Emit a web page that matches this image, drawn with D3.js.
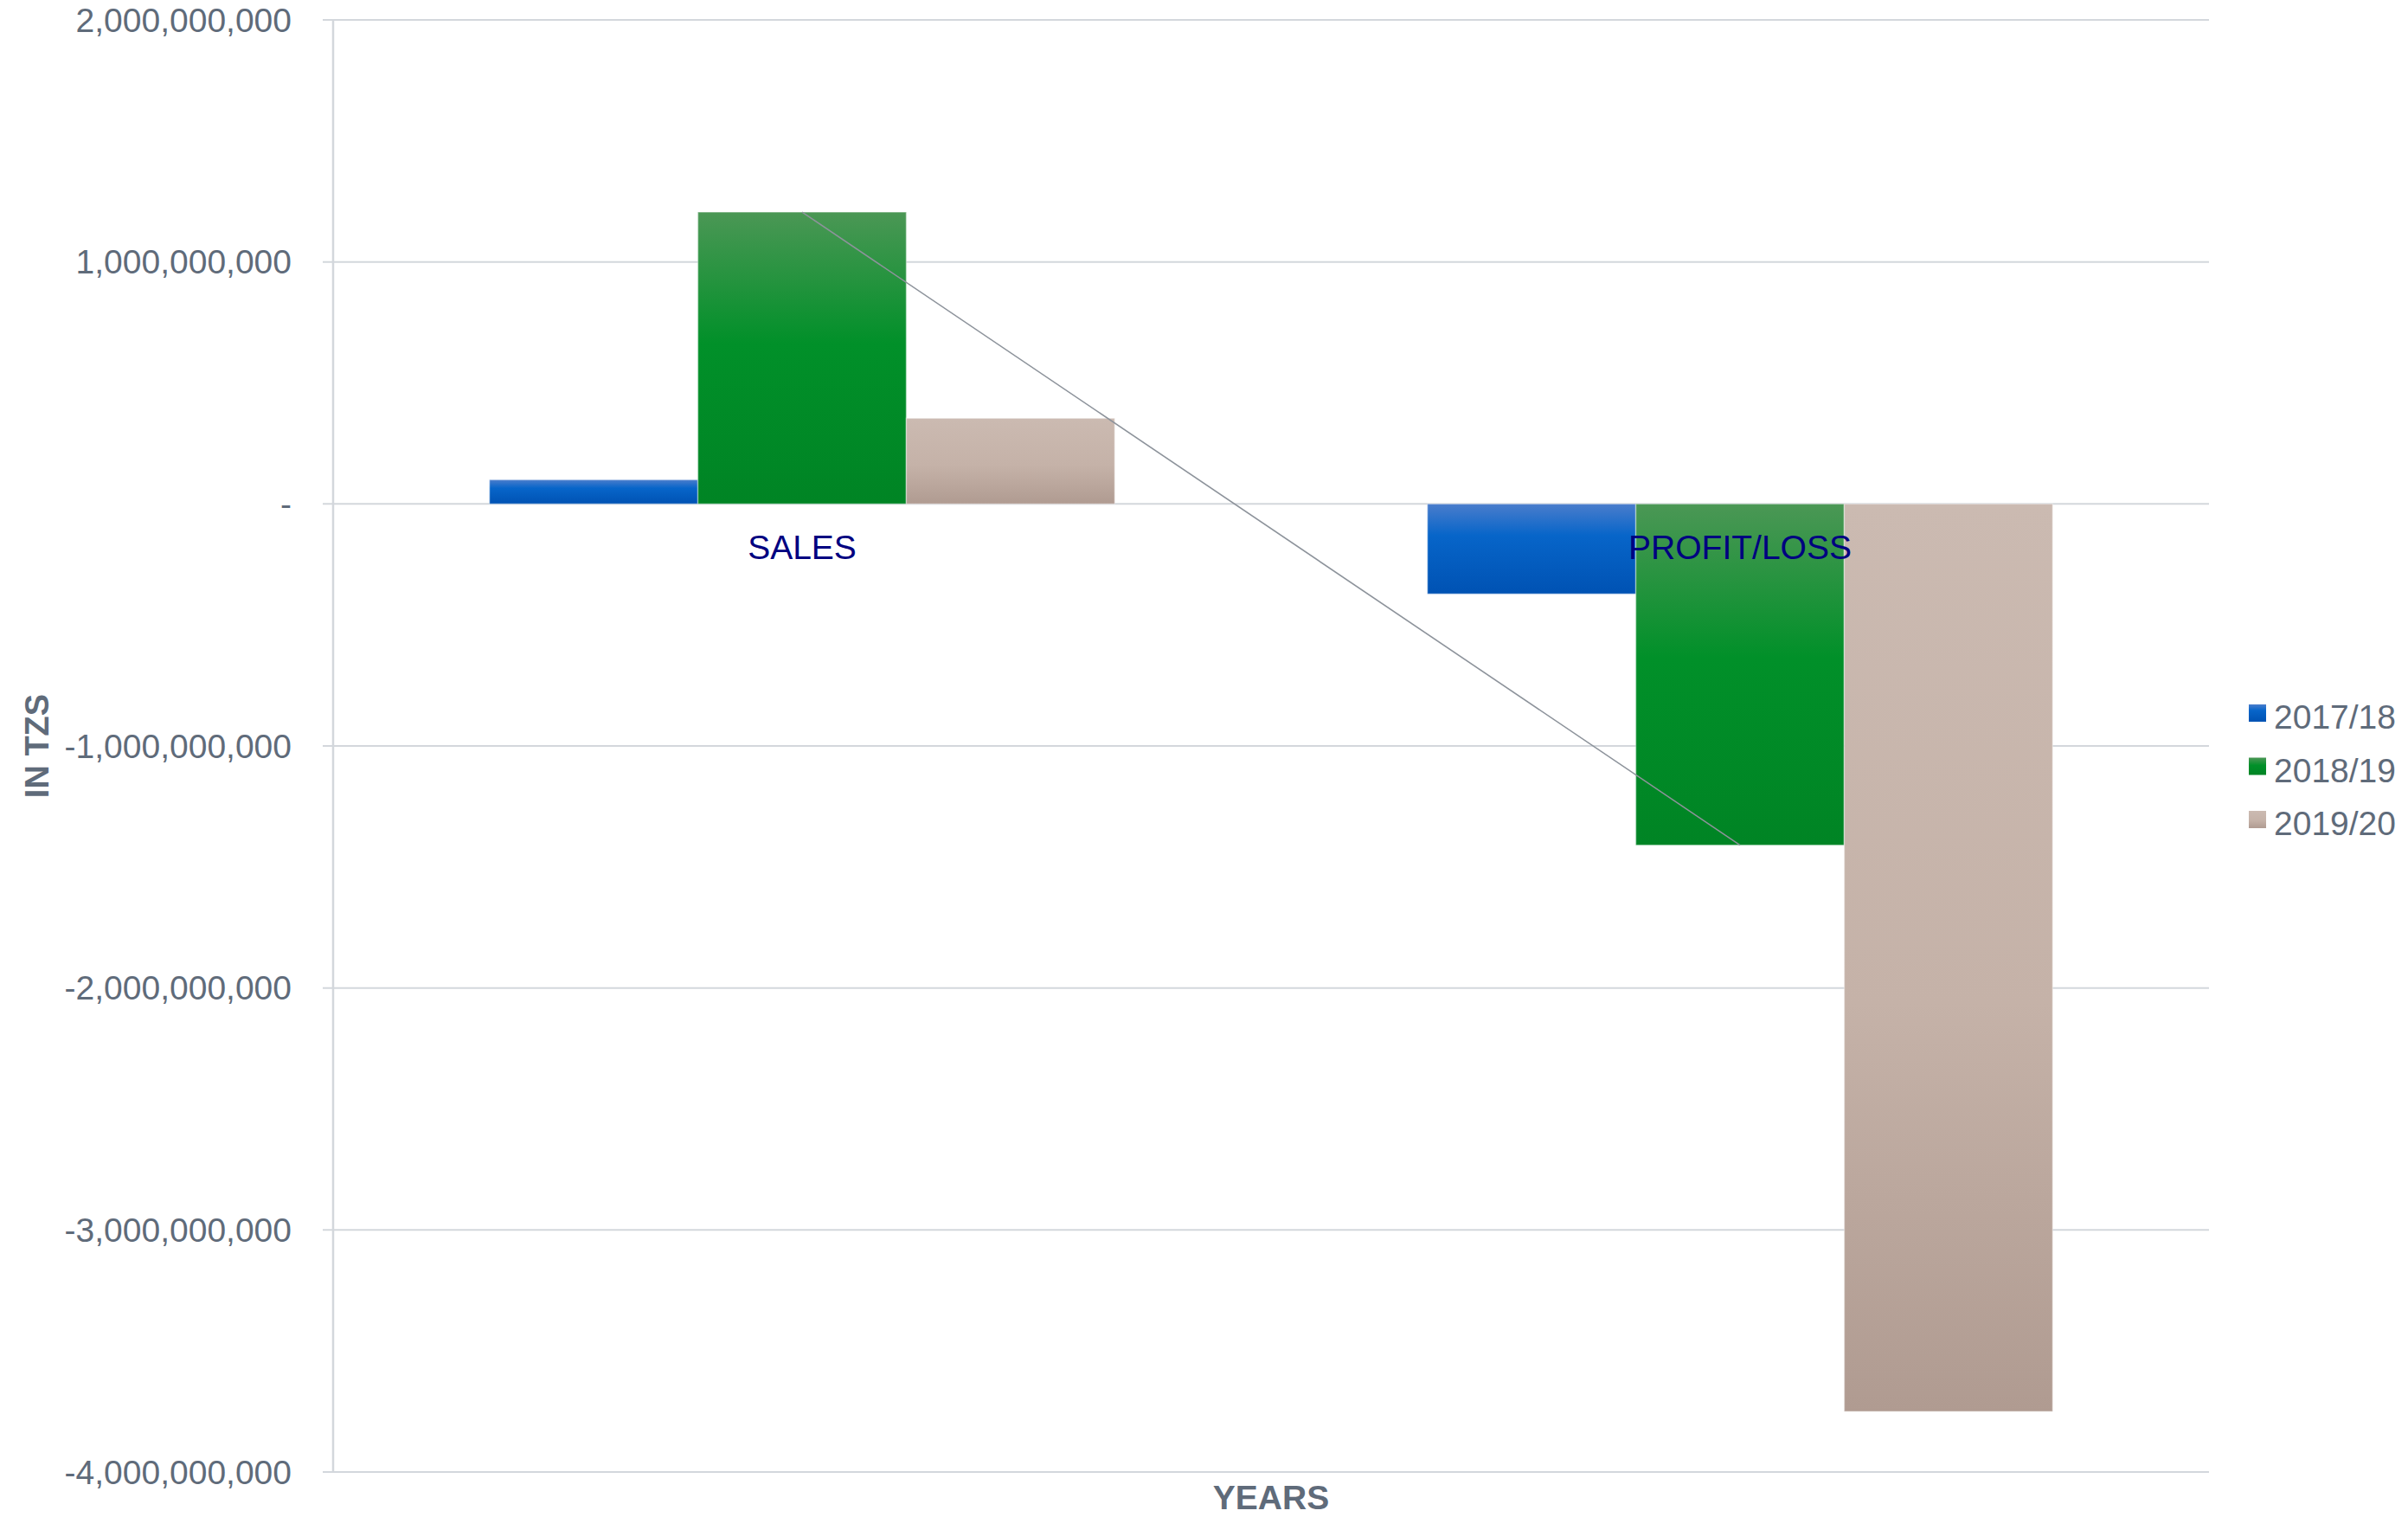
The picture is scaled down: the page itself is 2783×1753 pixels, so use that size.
<!DOCTYPE html>
<html>
<head>
<meta charset="utf-8">
<script src="https://cdn.jsdelivr.net/npm/d3@7"></script>
<style>
  html, body { margin: 0; padding: 0; background: #ffffff; }
  svg { display: block; }
</style>
</head>
<body>
<div id="chart"></div>
<script>
// Grouped bar chart: sales and profit/loss per financial year, in TZS
const categories = ["SALES", "PROFIT/LOSS"];
const seriesNames = ["2017/18", "2018/19", "2019/20"];
const values2017 = [100000000, -372000000];
const values2018 = [1206000000, -1410000000];
const values2019 = [354000000, -3750000000];
const yTicks = [2000000000, 1000000000, 0, -1000000000, -2000000000, -3000000000, -4000000000];
const yTitle = "IN TZS";
const xTitle = "YEARS";

const seriesValues = [values2017, values2018, values2019];

const W = 2783, H = 1753;
const plot = { left: 385, right: 2553, top: 23, bottom: 1701 };
const textColor = "#5f6b7a";
const gridColor = "#d3d7dc";
const font = "'Liberation Sans', Arial, sans-serif";

const svg = d3.select("#chart").append("svg")
  .attr("width", W).attr("height", H)
  .attr("viewBox", `0 0 ${W} ${H}`);

// gradients for the bar fills
const defs = svg.append("defs");
const gradients = [
  { id: "g2017", stops: [["0%", "#4a7dcc"], ["35%", "#0765c9"], ["100%", "#0052b3"]] },
  { id: "g2018", stops: [["0%", "#4b9755"], ["45%", "#019029"], ["100%", "#008424"]] },
  { id: "g2019", stops: [["0%", "#cbbab1"], ["55%", "#c5b2a8"], ["100%", "#b09b91"]] }
];
gradients.forEach(g => {
  const lg = defs.append("linearGradient").attr("id", g.id)
    .attr("x1", 0).attr("y1", 0).attr("x2", 0).attr("y2", 1);
  g.stops.forEach(([o, c]) => lg.append("stop").attr("offset", o).attr("stop-color", c));
});

const y = d3.scaleLinear().domain([-4000000000, 2000000000]).range([plot.bottom, plot.top]);

const x0 = d3.scaleBand().domain(categories)
  .range([plot.left, plot.right]).paddingInner(1 / 3).paddingOuter(1 / 6);
const x1 = d3.scaleBand().domain(seriesNames).range([0, x0.bandwidth()]).padding(0);

// gridlines and tick labels
const fmt = v => d3.format(",")(v).replace("\u2212", "-");
const grid = svg.append("g");
yTicks.forEach(t => {
  grid.append("line")
    .attr("x1", 373).attr("x2", plot.right)
    .attr("y1", y(t)).attr("y2", y(t))
    .attr("stroke", gridColor).attr("stroke-width", 2);
  grid.append("text")
    .attr("x", 337).attr("y", y(t))
    .attr("dy", "0.35em")
    .attr("text-anchor", "end")
    .attr("font-family", font).attr("font-size", 39)
    .attr("fill", textColor)
    .text(t === 0 ? "-" : fmt(t));
});
svg.append("line")
  .attr("x1", plot.left).attr("x2", plot.left)
  .attr("y1", plot.top).attr("y2", plot.bottom)
  .attr("stroke", gridColor).attr("stroke-width", 2.5);

// bars
const groups = svg.append("g").selectAll("g")
  .data(categories).join("g")
  .attr("transform", c => `translate(${x0(c)},0)`);

groups.selectAll("rect")
  .data((c, ci) => seriesNames.map((s, si) => ({ s, si, v: seriesValues[si][ci] })))
  .join("rect")
  .attr("x", d => x1(d.s))
  .attr("width", x1.bandwidth())
  .attr("y", d => y(Math.max(0, d.v)))
  .attr("height", d => Math.abs(y(d.v) - y(0)))
  .attr("fill", d => `url(#${gradients[d.si].id})`)
  .attr("stroke", "rgba(255,255,255,0.35)")
  .attr("stroke-width", 1.5);

// linear trendline for 2018/19
const pts = categories.map((c, i) => [x0(c) + x0.bandwidth() / 2, values2018[i]]);
const n = pts.length;
const mx = d3.mean(pts, p => p[0]), my = d3.mean(pts, p => p[1]);
const slope = d3.sum(pts, p => (p[0] - mx) * (p[1] - my)) / d3.sum(pts, p => (p[0] - mx) ** 2);
const trend = xv => my + slope * (xv - mx);
svg.append("line")
  .attr("x1", pts[0][0]).attr("y1", y(trend(pts[0][0])))
  .attr("x2", pts[n - 1][0]).attr("y2", y(trend(pts[n - 1][0])))
  .attr("stroke", "#8d939b").attr("stroke-width", 1.6);

// category labels below the zero line
categories.forEach(c => {
  svg.append("text")
    .attr("x", x0(c) + x0.bandwidth() / 2)
    .attr("y", y(0) + 64)
    .attr("text-anchor", "middle")
    .attr("font-family", font)
    .attr("font-size", 39)
    .attr("fill", "#000080")
    .text(c);
});

// axis titles
svg.append("text")
  .attr("transform", `translate(56,${(plot.top + plot.bottom) / 2}) rotate(-90)`)
  .attr("text-anchor", "middle")
  .attr("font-family", font).attr("font-size", 38).attr("font-weight", "bold")
  .attr("fill", textColor)
  .text(yTitle);

svg.append("text")
  .attr("x", (plot.left + plot.right) / 2).attr("y", 1744)
  .attr("text-anchor", "middle")
  .attr("font-family", font).attr("font-size", 39).attr("font-weight", "bold")
  .attr("fill", textColor)
  .text(xTitle);

// legend
const legend = svg.append("g").attr("transform", "translate(2599,814)");
seriesNames.forEach((s, i) => {
  const g = legend.append("g").attr("transform", `translate(0,${i * 61.5})`);
  g.append("rect").attr("width", 20).attr("height", 20)
    .attr("fill", `url(#${gradients[i].id})`);
  g.append("text")
    .attr("x", 29).attr("y", 28)
    .attr("font-family", font).attr("font-size", 39)
    .attr("fill", textColor)
    .text(s);
});
</script>
</body>
</html>
